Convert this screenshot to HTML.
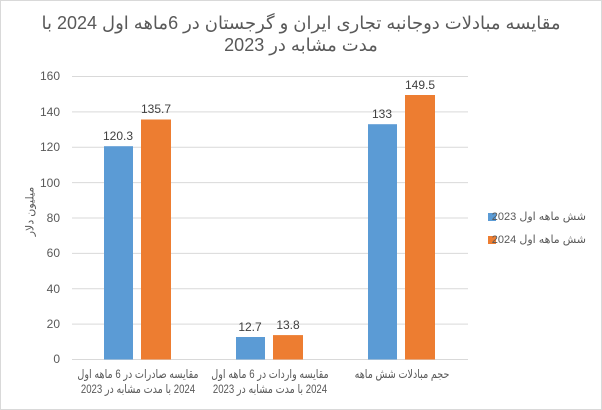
<!DOCTYPE html>
<html><head><meta charset="utf-8"><style>
body{margin:0;background:#fff}
#w{position:relative;width:602px;height:410px;overflow:hidden;font-family:"Liberation Sans","DejaVu Sans",sans-serif}
svg{position:absolute;left:0;top:0}
.t{position:absolute;direction:rtl;color:#595959;white-space:nowrap}
.c{transform:scaleX(0.8);transform-origin:50% 50%}
</style></head><body>
<div id="w">
<svg width="602" height="410" viewBox="0 0 602 410" xmlns="http://www.w3.org/2000/svg" font-family="Liberation Sans, sans-serif">
<rect x="0.5" y="0.5" width="601" height="409" fill="#fff" stroke="#d9d9d9"/>
<g stroke="#d9d9d9" stroke-width="1">
<line x1="72" x2="468" y1="76.5" y2="76.5"/>
<line x1="72" x2="468" y1="111.9" y2="111.9"/>
<line x1="72" x2="468" y1="147.3" y2="147.3"/>
<line x1="72" x2="468" y1="182.6" y2="182.6"/>
<line x1="72" x2="468" y1="218" y2="218"/>
<line x1="72" x2="468" y1="253.4" y2="253.4"/>
<line x1="72" x2="468" y1="288.8" y2="288.8"/>
<line x1="72" x2="468" y1="324.1" y2="324.1"/>
<line x1="72" x2="468" y1="359.5" y2="359.5"/>
</g>
<g font-size="12" fill="#595959" text-anchor="end">
<text x="60" y="80">160</text><text x="60" y="116">140</text><text x="60" y="151">120</text><text x="60" y="187">100</text><text x="60" y="222">80</text><text x="60" y="257">60</text><text x="60" y="293">40</text><text x="60" y="328">20</text><text x="60" y="363">0</text>
</g>
<g fill="#5b9bd5">
<rect x="104" y="146.2" width="29" height="213.3"/>
<rect x="236" y="337" width="29" height="22.5"/>
<rect x="368" y="124.2" width="29" height="235.3"/>
</g>
<g fill="#ed7d31">
<rect x="141" y="119.5" width="30" height="240"/>
<rect x="273" y="335.1" width="30" height="24.4"/>
<rect x="405" y="95" width="30" height="264.5"/>
</g>
<g font-size="12" fill="#404040" text-anchor="middle">
<text x="118" y="140">120.3</text><text x="156" y="113">135.7</text>
<text x="250" y="331">12.7</text><text x="288" y="329">13.8</text>
<text x="382" y="118">133</text><text x="420" y="89">149.5</text>
</g>
<rect x="488" y="213" width="8" height="8" fill="#5b9bd5"/>
<rect x="488" y="236" width="8" height="8" fill="#ed7d31"/>
</svg>
<div class="t" style="left:0;width:602px;top:12px;text-align:center;font-size:18px;line-height:22px">مقایسه مبادلات دوجانبه تجاری ایران و گرجستان در 6ماهه اول 2024 با<br>مدت مشابه در 2023</div>
<div class="t" style="left:-20px;width:100px;top:205px;text-align:center;font-size:11px;transform:rotate(-90deg)">میلیون دلار</div>
<div class="t c" style="left:38px;width:200px;top:367px;text-align:center;font-size:12px;line-height:15px">مقایسه صادرات در 6 ماهه اول<br>2024 با مدت مشابه در 2023</div>
<div class="t c" style="left:170px;width:200px;top:367px;text-align:center;font-size:12px;line-height:15px">مقایسه واردات در 6 ماهه اول<br>2024 با مدت مشابه در 2023</div>
<div class="t c" style="left:302px;width:200px;top:367px;text-align:center;font-size:12px;line-height:15px">حجم مبادلات شش ماهه</div>
<div class="t" style="left:498px;width:88px;top:210px;text-align:right;font-size:11px">شش ماهه اول 2023</div>
<div class="t" style="left:498px;width:88px;top:233px;text-align:right;font-size:11px">شش ماهه اول 2024</div>
</div>
</body></html>
